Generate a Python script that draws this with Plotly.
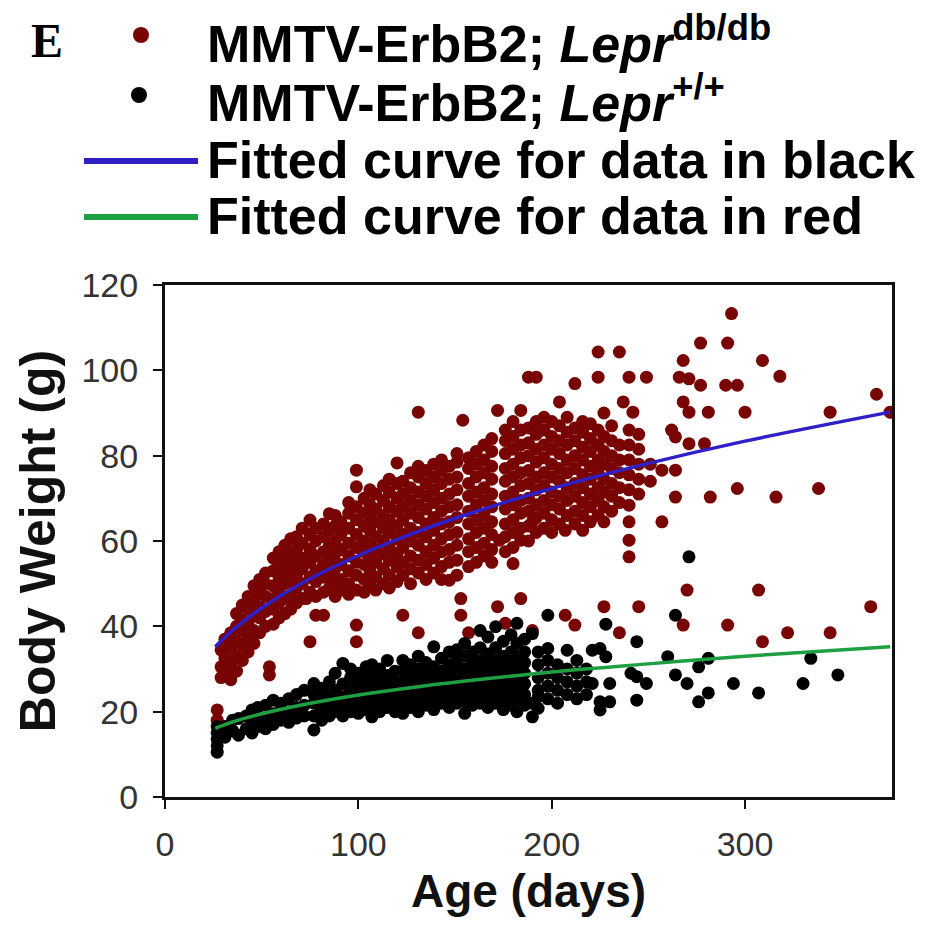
import plotly.graph_objects as go

# ---- data (age in days -> body weights in g) ----
red_weights_by_age = {
    27: [18, 20.4],
    29: [28, 30.5, 34.5],
    31: [29, 32.5, 37],
    34: [27.5, 31, 35, 38.5],
    37: [29.5, 33, 36.5, 40, 43],
    40: [32, 35.5, 39, 41.5, 45],
    43: [34, 37.5, 40.5, 44, 47],
    46: [36, 39, 42.5, 46, 49.5],
    49: [38.5, 42, 44.5, 48, 51],
    52: [40, 43.5, 47, 50, 52.5],
    54: [28.6, 30.5],
    56: [40.5, 44, 46.5, 49.5, 53, 56],
    59: [42, 45.5, 48, 51.5, 54.5, 57.5],
    62: [43, 46.5, 50, 52.5, 56, 59],
    65: [44, 47, 50.5, 54, 57, 60.5],
    68: [45.5, 49, 52, 55.5, 58, 61],
    71: [46.5, 50, 53.5, 56, 59.5, 63],
    73: [46.5],
    75: [36.4, 48, 51.5, 55, 58, 61.5, 64.9],
    78: [42.6, 47, 50.5, 53, 56.5, 60, 63],
    82: [42.6, 48, 51.5, 54.5, 57.5, 61, 64],
    85: [49, 52, 55.5, 59, 62.5, 66.4],
    88: [47, 50.5, 53.5, 57, 60, 63.5, 66],
    91: [48.5, 51, 54.5, 58, 61.5, 64.5],
    95: [47.5, 50, 53, 56.5, 59.5, 63, 66.5, 69],
    99: [36.4, 40.3, 48.5, 52, 55, 58.5, 61.5, 65, 68, 72.7, 76.6],
    103: [48, 51, 54.5, 57.5, 60, 63.5, 66.5, 70],
    106: [49.5, 53, 56, 59.5, 62.5, 65.5, 68.5, 72],
    109: [48.5, 51.5, 55, 58, 61, 64.5, 67.5, 71],
    113: [50, 53.5, 57, 60, 63, 66, 69.5, 73],
    116: [49, 52, 55.5, 58.5, 62, 65, 68, 71.5, 74.5],
    120: [50.5, 54, 57, 60.5, 63.5, 67, 70, 73.5, 78.3],
    123: [42.6, 52, 55, 58.5, 61.5, 65, 68, 71, 74],
    127: [50, 53.5, 56.5, 60, 63, 66.5, 69.5, 72.5, 76],
    131: [38.5, 52.5, 55.5, 59, 62, 65.5, 68.5, 71.5, 75, 77.5, 90.2],
    135: [51, 54.5, 57.5, 61, 64, 67.5, 70.5, 73.5, 76.5],
    139: [52.5, 56, 59, 62.5, 65.5, 69, 72, 75, 78],
    143: [51, 54, 57.5, 60.5, 64, 67, 70, 73.5, 76.5, 79],
    147: [50.8, 55, 58, 61.5, 64.5, 68, 71, 74.5, 77.5],
    151: [52, 55.5, 59, 62, 65.5, 68.5, 72, 75, 78.5, 80.5],
    153: [42.6, 46.5],
    154: [88.3],
    157: [38.5, 54, 57.5, 60.5, 64, 67, 70.5, 73.5, 77, 79.5],
    161: [55, 58.5, 62, 65, 68.5, 71.5, 75, 78, 81],
    165: [56.5, 59.5, 63, 66, 69.5, 72.5, 76, 79, 82.5],
    169: [55, 58, 61.5, 64.5, 68, 71, 74.5, 77.5, 81, 84],
    172: [44.6, 90.6],
    173: [60.2],
    176: [40.7, 57.5, 61, 64, 67.5, 70.5, 74, 77, 80.5, 83.5, 86],
    180: [54.7, 58.5, 62, 65, 68.5, 71.5, 75, 78, 81.5, 84.5, 88],
    184: [46.5, 60.2, 63, 66.5, 69.5, 73, 76, 79.5, 82.5, 86, 90.6],
    188: [60, 63.5, 67, 70, 73.5, 76.5, 80, 83, 86.5, 98.4],
    190: [39, 64.5],
    192: [62, 65.5, 68.5, 72, 75, 78.5, 81.5, 85, 88, 98.4],
    196: [63, 66.5, 69.5, 73, 76, 79.5, 82.5, 86, 89],
    200: [62, 65, 68.5, 71.5, 75, 78, 81.5, 84.5, 88],
    204: [64, 67.5, 70.5, 74, 77, 80.5, 83.5, 87, 92.6],
    207: [42.6, 62.5],
    208: [66, 69.5, 72.5, 76, 79, 82.5, 85.5, 89],
    212: [40.3, 64, 67, 70.5, 73.5, 77, 80, 83.5, 86.5, 96.9],
    216: [62.5, 66, 69, 72.5, 75.5, 79, 82, 85.5, 88],
    220: [64.5, 68, 71, 74.5, 77.5, 81, 84, 87.5],
    224: [66, 69.5, 72.5, 76, 79, 82.5, 86, 98.4, 104.3],
    227: [44.6, 64.5, 68, 71.5, 74.5, 78, 81, 84.5, 90],
    231: [67, 70.5, 73.5, 77, 80, 83.5, 87],
    235: [38.5, 69, 72.5, 76, 79, 82.5, 104.3],
    237: [92.6],
    240: [56.3, 60.2, 64.5, 68.4, 72, 75.5, 79, 82.5, 86, 98.4],
    242: [90.2],
    245: [44.6, 71, 74.5, 78, 81.5, 85],
    249: [98.4],
    251: [74, 78],
    257: [64.5, 76.6],
    262: [86],
    264: [84.4, 76.6, 70.3],
    266: [98.4],
    268: [102.3, 92.6, 40.3],
    270: [48.5],
    271: [98.0, 90.2, 82.8],
    277: [106.4, 96.5],
    279: [82.8],
    281: [90.2],
    282: [70.3],
    290: [96.5],
    291: [106.4, 40.3],
    293: [113.3],
    296: [96.5, 72.3],
    300: [90.2],
    307: [48.5],
    309: [102.3, 36.4],
    316: [70.3],
    318: [98.6],
    322: [38.5],
    338: [72.3],
    344: [90.2, 38.5],
    365: [44.6],
    368: [94.4],
    375: [90.2],
}

black_weights_by_age = {
    27: [10.5, 12, 13.5, 15, 16.5],
    31: [14, 16.5],
    35: [15.5, 18],
    38: [14.5, 18.4],
    42: [16, 19],
    45: [15, 17.5, 20.4],
    48: [16.5, 19, 21],
    52: [16, 18.5, 21.5],
    56: [17, 19.5, 22.7],
    60: [18, 20.5, 22],
    64: [17.5, 20, 23],
    68: [18.5, 21, 24],
    72: [19, 21.5, 25],
    77: [15.7, 19, 22, 24, 26.6],
    81: [18, 20.5, 23, 25.5],
    85: [19, 21.5, 24, 27],
    88: [20, 22.5, 25, 29],
    92: [19, 21, 23.5, 26.5, 31.3],
    96: [20, 22.5, 25, 28, 30],
    100: [19.6, 21.5, 24, 26.5, 29],
    104: [20.5, 23, 25.5, 28, 30.5],
    107: [18.8, 21, 23.5, 26, 28.5, 31],
    111: [20, 22.5, 25, 27.5, 30],
    115: [21, 23.5, 26, 28.5, 32],
    119: [20, 22.5, 24.5, 27, 29.5],
    123: [19.6, 22, 24.5, 27, 29.5, 32],
    127: [21, 23.5, 26, 28.5, 31],
    131: [20, 22.5, 25, 27.5, 30, 33],
    135: [21.5, 24, 26.5, 29, 31.5],
    139: [20.5, 23, 25.5, 28, 30.5, 35.2],
    143: [22, 24.5, 27, 29.5, 32.5],
    147: [21, 23.5, 26, 28.5, 31, 34],
    151: [22, 24.5, 27, 29.5, 32, 34.5],
    155: [19.6, 22.5, 25, 27.5, 30, 33, 36],
    159: [21.5, 24, 26.5, 29, 31.5, 34],
    163: [22, 24.5, 27, 29.5, 32, 35, 39],
    167: [21, 23.5, 26, 28.5, 31, 33.5, 37.5],
    171: [22, 24.5, 27, 29.5, 32, 35, 39.9],
    175: [20.5, 23, 25.5, 28, 30.5, 33, 36.5],
    179: [21.5, 24, 26.5, 29, 31.5, 34, 38],
    182: [20, 23, 25.5, 28, 30.5, 33, 36, 40.7],
    186: [21.5, 24, 26.5, 29, 31.5, 34, 37],
    190: [18.8, 22, 38.3],
    193: [20.8, 23.5, 25, 28, 31, 34],
    198: [23, 26, 29, 32, 34.8, 42.6],
    203: [22, 25, 28, 31],
    208: [24, 27, 30, 34.4],
    213: [23, 26, 29, 32],
    218: [24, 27, 30],
    221: [26.6, 34.4],
    225: [20.4, 22.3, 34.8],
    228: [40.5, 32.9],
    230: [22.3, 26.6],
    241: [29],
    244: [22.7, 28.2, 36.4],
    249: [26.6],
    260: [32.9],
    264: [42.6, 28.6],
    270: [26.6],
    271: [56.3],
    276: [22.3, 30.5],
    281: [24.4, 32.5],
    294: [26.6],
    307: [24.4],
    330: [26.6],
    334: [32.5],
    348: [28.6],
}

fit_age = [26, 35, 50, 70, 100, 130, 160, 200, 250, 300, 375]
blue_fit = [35.2, 39.1, 44.3, 49.9, 56.6, 62.1, 66.8, 72.3, 78.2, 83.4, 90.2]
green_fit = [16.1, 17.6, 19.5, 21.5, 23.9, 25.8, 27.4, 29.3, 31.2, 33.0, 35.2]

x_ticks = [0, 100, 200, 300]
y_ticks = [0, 20, 40, 60, 80, 100, 120]

legend_labels = [
    "<b>MMTV-ErbB2; <i>Lepr</i><sup>db/db</sup></b>",
    "<b>MMTV-ErbB2; <i>Lepr</i><sup>+/+</sup></b>",
    "<b>Fitted curve for data in black</b>",
    "<b>Fitted curve for data in red</b>",
]

RED = "#780404"
BLACK = "#000000"
BLUE = "#2f1fc6"
GREEN = "#1fa040"

red_x = [a for a, ws in red_weights_by_age.items() for _ in ws]
red_y = [w for ws in red_weights_by_age.values() for w in ws]
black_x = [a for a, ws in black_weights_by_age.items() for _ in ws]
black_y = [w for ws in black_weights_by_age.values() for w in ws]

fig = go.Figure()
fig.add_trace(go.Scatter(x=red_x, y=red_y, mode="markers",
                         marker=dict(color=RED, size=13, line=dict(width=0)),
                         showlegend=False))
fig.add_trace(go.Scatter(x=black_x, y=black_y, mode="markers",
                         marker=dict(color=BLACK, size=13, line=dict(width=0)),
                         showlegend=False))
fig.add_trace(go.Scatter(x=fit_age, y=blue_fit, mode="lines",
                         line=dict(color=BLUE, width=3.5, shape="spline"),
                         showlegend=False))
fig.add_trace(go.Scatter(x=fit_age, y=green_fit, mode="lines",
                         line=dict(color=GREEN, width=3.5, shape="spline"),
                         showlegend=False))

W, H = 939, 934
L, R, T, B = 165, 47, 285, 137


def px(x):
    return (x - L) / (W - L - R)


def py(y):
    return (H - B - y) / (H - T - B)


FONT = "Liberation Sans, Arial, sans-serif"
annotations = [dict(text="<b>E</b>", x=px(47), y=py(40), xref="paper", yref="paper",
                    xanchor="center", yanchor="middle", showarrow=False,
                    font=dict(family="Liberation Serif, Times New Roman, serif", size=48, color="black"))]
row_y = [40, 99, 160, 216]
for lab, yy in zip(legend_labels, row_y):
    annotations.append(dict(text=lab, x=px(205), y=py(yy), xref="paper", yref="paper",
                            xanchor="left", yanchor="middle", showarrow=False,
                            font=dict(family=FONT, size=52, color="black")))

shapes = [
    dict(type="circle", xref="paper", yref="paper", x0=px(133), x1=px(149), y0=py(43), y1=py(27),
         fillcolor=RED, line=dict(width=0)),
    dict(type="circle", xref="paper", yref="paper", x0=px(131), x1=px(147), y0=py(103), y1=py(87),
         fillcolor=BLACK, line=dict(width=0)),
    dict(type="line", xref="paper", yref="paper", x0=px(84), x1=px(198), y0=py(161), y1=py(161),
         line=dict(color=BLUE, width=6)),
    dict(type="line", xref="paper", yref="paper", x0=px(84), x1=px(198), y0=py(217), y1=py(217),
         line=dict(color=GREEN, width=6)),
]

fig.update_layout(
    width=W, height=H,
    margin=dict(l=L, r=R, t=T, b=B),
    paper_bgcolor="white", plot_bgcolor="white",
    annotations=annotations, shapes=shapes,
    showlegend=False,
    font=dict(family=FONT),
)
fig.update_xaxes(range=[0, 376], tickvals=x_ticks, ticks="outside", ticklen=9, tickwidth=2,
                 tickcolor="#111", showline=True, linewidth=3, linecolor="#111", mirror=True,
                 showgrid=False, zeroline=False, tickfont=dict(size=34, color="#333", family=FONT),
                 ticklabelstandoff=6,
                 title=dict(text="<b>Age (days)</b>", font=dict(size=46, color="#111", family=FONT), standoff=14))
fig.update_yaxes(range=[0, 120], tickvals=y_ticks, ticks="outside", ticklen=9, tickwidth=2,
                 tickcolor="#111", showline=True, linewidth=3, linecolor="#111", mirror=True,
                 showgrid=False, zeroline=False, tickfont=dict(size=34, color="#333", family=FONT),
                 ticklabelstandoff=8,
                 title=dict(text="<b>Body Weight (g)</b>", font=dict(size=50, color="#111", family=FONT), standoff=10))

fig.write_html("out.html")
